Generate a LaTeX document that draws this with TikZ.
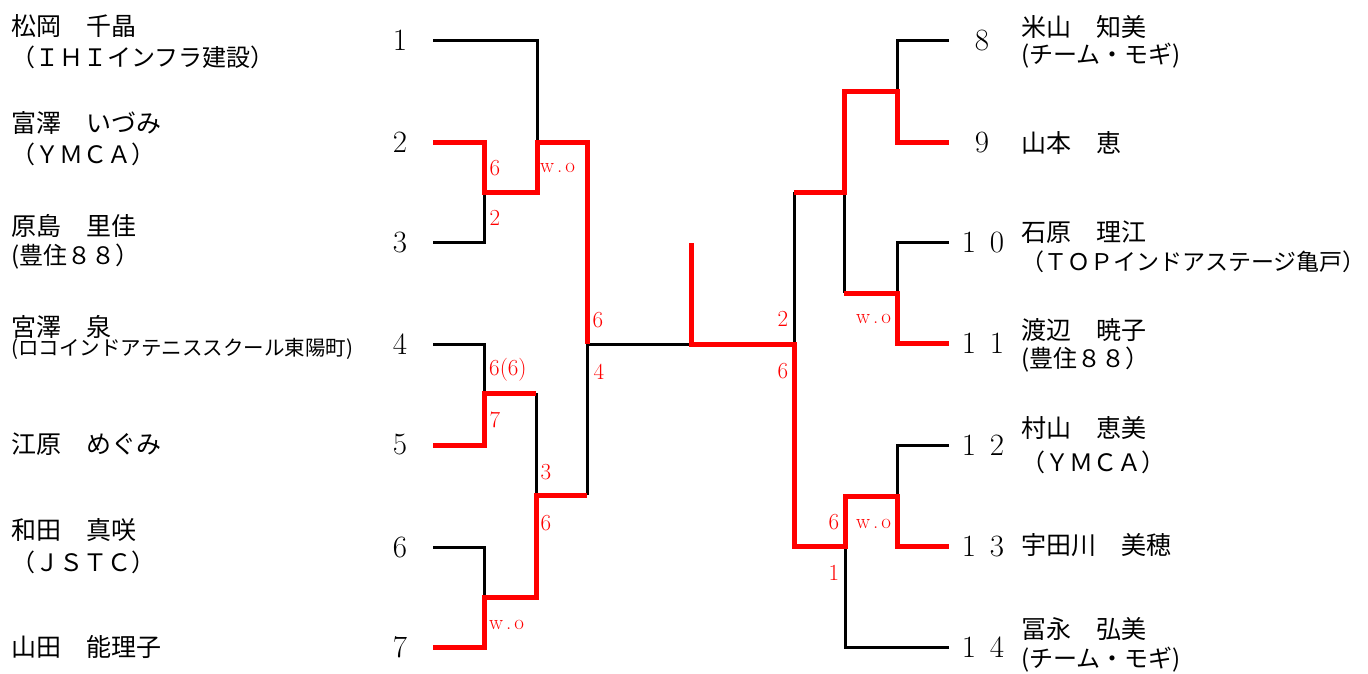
\documentclass[tikz,border=0pt]{standalone}
\usepackage{fontspec}
\newfontfamily\jp{Noto Sans CJK JP}
\begin{document}
\begin{tikzpicture}[x=1pt,y=-1pt,
  blk/.style={line width=3pt, black, line join=miter},
  win/.style={line width=5pt, red, line join=miter},
  num/.style={font=\fontsize{31}{31}\selectfont, inner sep=0pt},
  nm/.style={font=\jp\fontsize{25}{30}\selectfont, anchor=west, inner sep=0pt},
  club/.style={font=\jp\fontsize{24}{30}\selectfont, anchor=west, inner sep=0pt},
  nmsmall/.style={font=\jp\fontsize{20.5}{24}\selectfont, anchor=west, inner sep=0pt},
  sc/.style={font=\fontsize{23}{23}\selectfont, text=red, inner sep=0pt},
  wo/.style={font=\fontsize{21}{21}\selectfont, text=red, inner sep=0pt, anchor=west}]
\useasboundingbox (0,0) rectangle (1368,673);

% entry line ends
\coordinate (L1) at (433,40);
\coordinate (L2) at (433,142);
\coordinate (L3) at (433,242);
\coordinate (L4) at (433,344);
\coordinate (L5) at (433,445);
\coordinate (L6) at (433,547);
\coordinate (L7) at (433,647);
\coordinate (R8) at (949,40);
\coordinate (R9) at (949,142);
\coordinate (R10) at (949,242);
\coordinate (R11) at (949,343);
\coordinate (R12) at (949,445);
\coordinate (R13) at (949,546);
\coordinate (R14) at (949,647);
% junctions
\coordinate (j23) at (484,192);
\coordinate (j123) at (537,142);
\coordinate (j45) at (484,393);
\coordinate (j67) at (484,597);
\coordinate (j4567) at (536,495);
\coordinate (jL) at (587,344);
\coordinate (jF) at (691,344);
\coordinate (top) at (691,243);
\coordinate (jR) at (794,344);
\coordinate (j89) at (897,91);
\coordinate (j811) at (844,192);
\coordinate (j1011) at (897,293);
\coordinate (j1213) at (897,496);
\coordinate (j1214) at (845,546);

% black lines
\draw[blk] (L1) -| (j123);
\draw[blk] (L3) -| (j23);
\draw[blk] (L4) -| (j45);
\draw[blk] (L6) -| (j67);
\draw[blk] (j45 -| j4567) -- (j4567);
\draw[blk] (j4567 -| jL) -- (jL) -- (jF);
\draw[blk] (R8) -| (j89);
\draw[blk] (R10) -| (j1011);
\draw[blk] (R12) -| (j1213);
\draw[blk] (R14) -| (j1214);
\draw[blk] (jR) -- (jR |- j811);
\draw[blk] (j811) -- (j811 |- j1011);

% winner lines
\draw[win] (L2) -| (j23) -| (j123) -| (jL);
\draw[win] (L5) -| (j45) -- (j45 -| j4567);
\draw[win] (L7) -| (j67) -| (j4567) -- (j4567 -| jL);
\draw[win] (top) -- (jF) -- (jR) |- (j1214) |- (j1213) |- (R13);
\draw[win] (jR |- j811) -- (j811) |- (j89) |- (R9);
\draw[win] (j811 |- j1011) -- (j1011) |- (R11);

% numbers
\node[num] (n1) at (400,40) {1};
\node[num] (n2) at (400,142) {2};
\node[num] (n3) at (400,242) {3};
\node[num] (n4) at (400,344) {4};
\node[num] (n5) at (400,445) {5};
\node[num] (n6) at (400,547) {6};
\node[num] (n7) at (400,647) {7};
\node[num] (n8) at (982,40) {8};
\node[num] (n9) at (982,142) {9};
\node[num] (n10) at (983,242) {1\kern14pt 0};
\node[num] (n11) at (983,343) {1\kern14pt 1};
\node[num] (n12) at (983,445) {1\kern14pt 2};
\node[num] (n13) at (983,546) {1\kern14pt 3};
\node[num] (n14) at (983,647) {1\kern14pt 4};

% names left
\node[nm] (a1) at (11,26) {松岡　千晶};
\node[club] (b1) at (11,57) {（ＩＨＩインフラ建設）};
\node[nm] (a2) at (11,123) {富澤　いづみ};
\node[club] (b2) at (11,154) {（ＹＭＣＡ）};
\node[nm] (a3) at (11,226) {原島　里佳};
\node[club] (b3) at (11,257) {(豊住８８）};
\node[nm] (a4) at (11,327) {宮澤　泉};
\node[nmsmall] (b4) at (11,349) {(ロコインドアテニススクール東陽町)};
\node[nm] (a5) at (11,444) {江原　めぐみ};
\node[nm] (a6) at (11,530) {和田　真咲};
\node[club] (b6) at (11,562) {（ＪＳＴＣ）};
\node[nm] (a7) at (11,647) {山田　能理子};
% names right
\node[nm] (a8) at (1021,27) {米山　知美};
\node[club] (b8) at (1021,56) {(チーム・モギ)};
\node[nm] (a9) at (1021,143) {山本　恵};
\node[nm] (a10) at (1021,232) {石原　理江};
\node[club,font=\jp\fontsize{23}{30}\selectfont] (b10) at (1021,262) {（ＴＯＰインドアステージ亀戸）};
\node[nm] (a11) at (1021,330) {渡辺　暁子};
\node[club] (b11) at (1021,360) {(豊住８８）};
\node[nm] (a12) at (1021,428) {村山　恵美};
\node[club] (b12) at (1021,462) {（ＹＭＣＡ）};
\node[nm] (a13) at (1021,545) {宇田川　美穂};
\node[nm] (a14) at (1021,629) {冨永　弘美};
\node[club] (b14) at (1021,660) {(チーム・モギ)};

% scores
\node[sc] (s1) at (495,168) {6};
\node[sc] (s2) at (495,218) {2};
\node[wo] (s3) at (540,168) {w\kern3pt.\kern3pt o};
\node[sc] (s4) at (598,320) {6};
\node[sc] (s5) at (599,372) {4};
\node[sc,anchor=west] (s6) at (489,370) {6(6)};
\node[sc] (s7) at (495,420) {7};
\node[sc] (s8) at (546,472) {3};
\node[sc] (s9) at (546,523) {6};
\node[wo] (s10) at (489,625) {w\kern3pt.\kern3pt o};
\node[sc] (s11) at (783,319) {2};
\node[sc] (s12) at (783,371) {6};
\node[wo] (s13) at (856,319) {w\kern3pt.\kern3pt o};
\node[sc] (s14) at (834,522) {6};
\node[wo] (s15) at (856,524) {w\kern3pt.\kern3pt o};
\node[sc] (s16) at (834,573) {1};
\end{tikzpicture}
\end{document}
